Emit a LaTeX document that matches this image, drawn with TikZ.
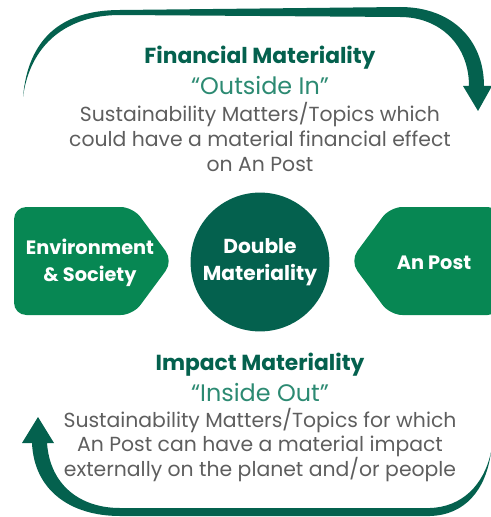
\documentclass[tikz,border=0pt]{standalone}
\usepackage{fontspec}
\setmainfont{Poppins}
\usepackage{tikz}
\definecolor{dmgreen}{HTML}{04614E}
\definecolor{boxgreen}{HTML}{078753}
\definecolor{quotegreen}{HTML}{2C8A72}
\definecolor{bodygrey}{HTML}{5E5E5E}

\begin{document}
\begin{tikzpicture}[x=0.02cm, y=-0.02cm,
  heading/.style={text=dmgreen, font=\fontsize{12.4}{14}\selectfont\bfseries},
  quote/.style={text=quotegreen, font=\fontsize{13.6}{15}\selectfont},
  body/.style={text=bodygrey, align=center, font=\fontsize{11.6}{14.2}\selectfont},
  boxlabel/.style={text=white, align=center, font=\fontsize{11}{15.3}\selectfont\bfseries}]

\useasboundingbox (0,0) rectangle (490,517);

% draw top swoosh
\fill [dmgreen] (23,97) .. controls (28,40) and (60,10) .. (120,10) -- (400,7)
  .. controls (452,7) and (484,40) .. (484,86) -- (492,86) -- (478,111) -- (463,86) -- (469,86)
  .. controls (469,45) and (440,17) .. (400,17) -- (120,15)
  .. controls (66,15) and (30,45) .. (23,97) -- cycle;

% draw bottom swoosh
\fill [dmgreen] (491,452) .. controls (486,490) and (465,515) .. (430,516) -- (120,516)
  .. controls (70,516) and (34,490) .. (32,443) -- (22,443) -- (38,417) -- (54,443) -- (47,443)
  .. controls (50,485) and (80,508) .. (120,508) -- (430,508)
  .. controls (462,507) and (484,485) .. (491,452) -- cycle;

% draw the two arrow boxes
\fill [boxgreen, rounded corners=7] (14,207) -- (133,207) -- (173,261) -- (133,315) -- (14,315) -- cycle;
\fill [boxgreen, rounded corners=7] (500,207) -- (390,207) -- (350,261) -- (390,315) -- (500,315) -- cycle;

% nodes
\node [circle, fill=dmgreen, minimum size=2.66cm, boxlabel, font=\fontsize{11.5}{15.3}\selectfont\bfseries] (dm) at (260,262) {Double\\Materiality};
\node [boxlabel] (env) at (90,263) {Environment\\\& Society};
\node [boxlabel] (post) at (434,263) {An Post};

\node [heading] (fmtitle) at (260,58) {Financial Materiality};
\node [quote] (fmquote) at (260,86) {“Outside In”};
\node [body] (fmtext) at (260,137) {Sustainability Matters/Topics which\\could have a material financial effect\\on An Post};

\node [heading] (imtitle) at (260,365) {Impact Materiality};
\node [quote] (imquote) at (260,393) {“Inside Out”};
\node [body] (imtext) at (260,445) {Sustainability Matters/Topics for which\\An Post can have a material impact\\externally on the planet and/or people};

\end{tikzpicture}
\end{document}
